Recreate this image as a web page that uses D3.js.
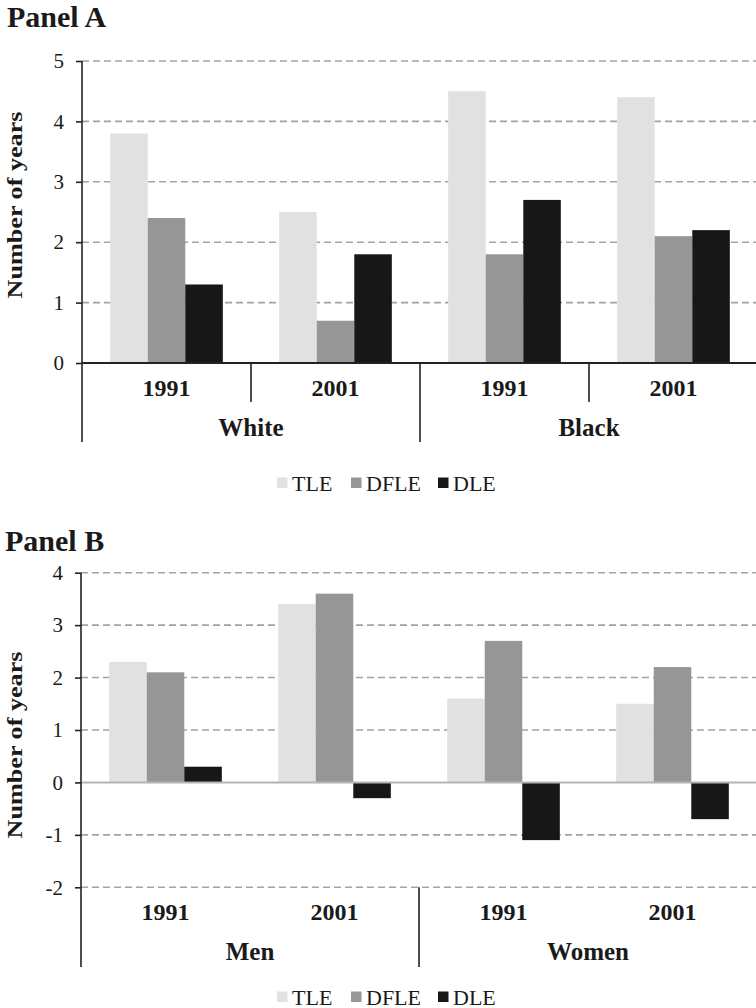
<!DOCTYPE html>
<html>
<head>
<meta charset="utf-8">
<script src="https://cdn.jsdelivr.net/npm/d3@7"></script>
<style>
  html, body { margin: 0; padding: 0; background: #fff; }
  svg { display: block; }
</style>
</head>
<body>
<svg id="chart" width="756" height="1008"></svg>
<script>
// ---- data ----
const series = ["TLE", "DFLE", "DLE"];
const years = ["1991", "2001"];
const groupsA = ["White", "Black"];
const groupsB = ["Men", "Women"];
// Panel A values per cluster (White 1991, White 2001, Black 1991, Black 2001)
const tleA  = [3.8, 2.5, 4.5, 4.4];
const dfleA = [2.4, 0.7, 1.8, 2.1];
const dleA  = [1.3, 1.8, 2.7, 2.2];
// Panel B values per cluster (Men 1991, Men 2001, Women 1991, Women 2001)
const tleB  = [2.3, 3.4, 1.6, 1.5];
const dfleB = [2.1, 3.6, 2.7, 2.2];
const dleB  = [0.3, -0.3, -1.1, -0.7];
const ticksA = [0, 1, 2, 3, 4, 5];
const ticksB = [-2, -1, 0, 1, 2, 3, 4];

const FONT = "'Liberation Serif', 'Times New Roman', Times, 'DejaVu Serif', serif";
const colors = { TLE: "#e1e1e1", DFLE: "#969696", DLE: "#171717" };
const svg = d3.select("#chart").attr("font-family", FONT);

function txt(sel) { return sel.attr("font-family", FONT).attr("fill", "#1a1a1a"); }

function drawPanel(opt) {
  const g = svg.append("g");
  const clusters = [];
  opt.groups.forEach(gr => opt.years.forEach(y => clusters.push(gr + "|" + y)));
  const x0 = d3.scaleBand().domain(clusters).range([opt.left, opt.left + 4 * 169]).paddingInner(0).paddingOuter(0);
  const x1 = d3.scaleBand().domain(series).range([0, x0.bandwidth()]).paddingInner(0).paddingOuter(0.75);
  const y = d3.scaleLinear().domain(opt.domain).range([opt.bottom, opt.top]);

  // title
  txt(g.append("text")).attr("x", opt.titleX).attr("y", opt.titleY)
    .attr("font-size", 30).attr("font-weight", "bold").text(opt.title);

  // gridlines (dashed)
  g.selectAll("line.grid").data(opt.ticks.filter(t => t !== 0)).join("line")
    .attr("x1", opt.left).attr("x2", 760)
    .attr("y1", d => y(d)).attr("y2", d => y(d))
    .attr("stroke", "#a3a3a3").attr("stroke-width", 1.6).attr("stroke-dasharray", "7,4");

  // bars
  const rows = clusters.map((c, i) => ({ c, vals: series.map(s => ({ s, v: opt.data[s][i] })) }));
  const cg = g.selectAll("g.cl").data(rows).join("g").attr("transform", d => `translate(${x0(d.c)},0)`);
  cg.selectAll("rect").data(d => d.vals).join("rect")
    .attr("x", d => x1(d.s)).attr("width", x1.bandwidth())
    .attr("y", d => y(Math.max(0, d.v))).attr("height", d => Math.abs(y(d.v) - y(0)))
    .attr("fill", d => colors[d.s]);

  // zero line
  g.append("line").attr("x1", opt.left).attr("x2", 760).attr("y1", y(0)).attr("y2", y(0))
    .attr("stroke", opt.zeroColor).attr("stroke-width", 2);

  // y axis
  const ax = g.append("g").attr("transform", `translate(${opt.left},0)`)
    .call(d3.axisLeft(y).tickValues(opt.ticks).tickSize(6).tickPadding(12).tickFormat(d => String(d)));
  ax.attr("font-family", FONT);
  ax.select(".domain").remove();
  ax.selectAll(".tick line").attr("stroke", "#222").attr("stroke-width", 1.6);
  txt(ax.selectAll(".tick text")).attr("font-size", 21);
  g.append("line").attr("x1", opt.left).attr("x2", opt.left).attr("y1", opt.top).attr("y2", opt.axisEnd)
    .attr("stroke", "#222").attr("stroke-width", 1.6);

  // category dividers
  if (opt.yearDividers) {
    [clusters[1], clusters[3]].forEach(c => {
      g.append("line").attr("x1", x0(c)).attr("x2", x0(c)).attr("y1", opt.catTop).attr("y2", opt.catTop + 39)
        .attr("stroke", "#222").attr("stroke-width", 1.6);
    });
  }
  g.append("line").attr("x1", x0(clusters[2])).attr("x2", x0(clusters[2])).attr("y1", opt.catTop).attr("y2", opt.axisEnd)
    .attr("stroke", "#222").attr("stroke-width", 1.6);

  // year labels
  txt(g.selectAll("text.yr").data(clusters).join("text"))
    .attr("x", d => x0(d) + x0.bandwidth() / 2).attr("y", opt.yearY)
    .attr("text-anchor", "middle").attr("font-size", 24).attr("font-weight", "bold")
    .text(d => d.split("|")[1]);
  // group labels
  txt(g.selectAll("text.gr").data(opt.groups).join("text"))
    .attr("x", (d, i) => x0(clusters[i * 2]) + x0.bandwidth()).attr("y", opt.groupY)
    .attr("text-anchor", "middle").attr("font-size", 25).attr("font-weight", "bold")
    .text(d => d);

  // y label
  txt(g.append("text")).attr("transform", `translate(22,${opt.ylabelY}) rotate(-90)`)
    .attr("text-anchor", "middle").attr("font-size", 21).attr("font-weight", "bold")
    .attr("textLength", 187).attr("lengthAdjust", "spacingAndGlyphs")
    .text("Number of years");

  // legend
  const legX = [277, 351, 438];
  series.forEach((s, i) => {
    g.append("rect").attr("x", legX[i]).attr("y", opt.legendY - 5.5).attr("width", 10.5).attr("height", 10.5).attr("fill", colors[s]);
    txt(g.append("text")).attr("x", legX[i] + 15).attr("y", opt.legendY + 7.5).attr("font-size", 22).text(s);
  });
}

drawPanel({
  title: "Panel A", titleX: 7, titleY: 27,
  left: 82, top: 61, bottom: 363, domain: [0, 5], ticks: ticksA,
  groups: groupsA, years: years,
  data: { TLE: tleA, DFLE: dfleA, DLE: dleA },
  zeroColor: "#222", axisEnd: 442, catTop: 363, yearDividers: true,
  yearY: 396, groupY: 436, ylabelY: 205, legendY: 483
});

drawPanel({
  title: "Panel B", titleX: 5, titleY: 551,
  left: 81, top: 572.7, bottom: 887.3, domain: [-2, 4], ticks: ticksB,
  groups: groupsB, years: years,
  data: { TLE: tleB, DFLE: dfleB, DLE: dleB },
  zeroColor: "#b4b4b4", axisEnd: 967, catTop: 887.3, yearDividers: false,
  yearY: 920, groupY: 960, ylabelY: 745, legendY: 997
});
</script>
</body>
</html>
